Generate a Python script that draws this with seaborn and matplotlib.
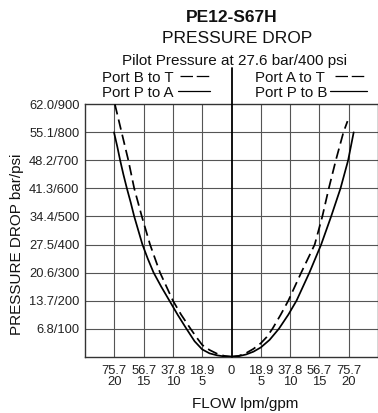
import matplotlib
matplotlib.use("Agg")
import matplotlib.pyplot as plt
from matplotlib.lines import Line2D
import seaborn as sns
import pandas as pd

# ---- data (flow in gpm, negative = left side; pressure in psi) ----
flow_p_to_a = [-20.05, -19.5, -19.0, -18.45, -17.85, -17.2, -16.6, -15.9, -15.2,
               -14.3, -13.3, -12.0, -10.6, -9.2, -7.7, -6.3, -5.0, -3.75, -2.5, -1.25, 0.0]
psi_p_to_a  = [800, 750, 700, 650, 600, 550, 500, 450, 400,
               350, 300, 250, 200, 150, 100, 55, 26, 12, 5, 1, 0]

flow_b_to_t = [-19.9, -18.75, -17.6, -16.6, -15.3, -13.9, -12.2, -10.0, -8.6,
               -7.0, -6.0, -5.0, -3.75, -2.5, -1.25, 0.0]
psi_b_to_t  = [900, 800, 700, 600, 500, 400, 300, 200, 150,
               100, 70, 42, 24, 11, 3, 0]

flow_a_to_t = [0.0, 1.25, 2.5, 3.75, 5.0, 6.0, 7.0, 8.4, 9.7, 11.9, 14.2, 15.5,
               16.6, 17.8, 19.1, 19.8]
psi_a_to_t  = [0, 3, 13, 28, 48, 70, 100, 150, 200, 300, 400, 500,
               600, 700, 800, 840]

flow_p_to_b = [0.0, 1.25, 2.5, 3.75, 5.0, 6.5, 8.1, 9.7, 11.1, 13.3, 15.3, 17.0,
               18.6, 19.9, 20.85]
psi_p_to_b  = [0, 2, 8, 18, 33, 60, 100, 150, 200, 300, 400, 500,
               600, 700, 800]

x_ticks = [-20, -15, -10, -5, 0, 5, 10, 15, 20]
x_tick_labels = ["75.7\n20", "56.7\n15", "37.8\n10", "18.9\n5", "0",
                 "18.9\n5", "37.8\n10", "56.7\n15", "75.7\n20"]
y_ticks = [100, 200, 300, 400, 500, 600, 700, 800, 900]
y_tick_labels = ["6.8/100", "13.7/200", "20.6/300", "27.5/400", "34.4/500",
                 "41.3/600", "48.2/700", "55.1/800", "62.0/900"]

title = "PE12-S67H"
subtitle1 = "PRESSURE DROP"
subtitle2 = "Pilot Pressure at 27.6 bar/400 psi"
x_label = "FLOW lpm/gpm"
y_label = "PRESSURE DROP bar/psi"

sns.set_style("white")
plt.rcParams['font.family'] = ['Liberation Sans', 'DejaVu Sans']

W, H = 378, 413
fig = plt.figure(figsize=(W / 100, H / 100), dpi=100)
ax = fig.add_axes([85 / W, 1 - 356.7 / H, (378 - 85) / W, (356.7 - 104.3) / H])

def fx(px):
    return px / W

def fy(py):
    return 1 - py / H

frames = []
for name, fl, ps in [("P to A", flow_p_to_a, psi_p_to_a),
                     ("B to T", flow_b_to_t, psi_b_to_t),
                     ("A to T", flow_a_to_t, psi_a_to_t),
                     ("P to B", flow_p_to_b, psi_p_to_b)]:
    frames.append(pd.DataFrame({"flow": fl, "psi": ps, "series": name}))
df = pd.concat(frames, ignore_index=True)

grid_c = "#555555"
for yv in y_ticks[:-1]:
    ax.axhline(yv, color=grid_c, lw=0.8, zorder=1)
for xv in x_ticks:
    if xv != 0:
        ax.axvline(xv, color=grid_c, lw=0.8, zorder=1)
# center line, extending up into legend area
ax.axvline(0, ymin=0, ymax=(356.7 - 68) / (356.7 - 104.3), color="black",
           lw=1.3, zorder=3, clip_on=False)

for name, dashed in [("P to A", False), ("B to T", True), ("A to T", True), ("P to B", False)]:
    sub = df[df["series"] == name]
    sns.lineplot(data=sub, x="flow", y="psi", ax=ax, sort=False, color="black",
                 lw=1.25, zorder=4, estimator=None)
    line = ax.lines[-1]
    line.set_solid_joinstyle("round")
    if dashed:
        line.set_dashes((6, 3))

ax.set_xlim(-25, 25)
ax.set_ylim(0, 900)
ax.set_xticks(x_ticks)
ax.set_xticklabels(x_tick_labels, fontsize=9.4, linespacing=0.93)
ax.set_yticks(y_ticks)
ax.set_yticklabels(y_tick_labels, fontsize=9.3)
ax.tick_params(axis="both", length=0, colors="#222222")
ax.tick_params(axis="x", pad=6)
ax.tick_params(axis="y", pad=4)
ax.set_xlabel("")
ax.set_ylabel("")
for s in ax.spines.values():
    s.set_color("#333333")
    s.set_linewidth(1.0)

# titles
fig.text(fx(231.7), fy(21.7), title, ha="center", va="baseline",
         fontsize=12.5, fontweight="bold", color="#111111")
fig.text(fx(237.5), fy(43.3), subtitle1, ha="center", va="baseline",
         fontsize=12.5, color="#111111")
fig.text(fx(234), fy(65), subtitle2, ha="center", va="baseline",
         fontsize=11, color="#111111")

# legend-like labels
fig.text(fx(101.7), fy(81.7), "Port B to T", ha="left", va="baseline", fontsize=10.8, color="#111111")
fig.text(fx(101.7), fy(96.7), "Port P to A", ha="left", va="baseline", fontsize=10.8, color="#111111")
fig.text(fx(255), fy(81.7), "Port A to T", ha="left", va="baseline", fontsize=10.8, color="#111111")
fig.text(fx(255), fy(96.7), "Port P to B", ha="left", va="baseline", fontsize=10.8, color="#111111")
for x0, x1, yy, dashed in [(180, 210, 76, True), (178, 210, 91, False),
                           (335, 367, 76, True), (330, 367, 91, False)]:
    ln = Line2D([fx(x0), fx(x1)], [fy(yy), fy(yy)], transform=fig.transFigure,
                color="black", lw=0.9)
    if dashed:
        ln.set_dashes((10, 3))
    fig.add_artist(ln)

fig.text(fx(16.7), fy(244), y_label, rotation=90, ha="center", va="center",
         fontsize=11, color="#111111")
fig.text(fx(245.5), fy(408.3), x_label, ha="center", va="baseline",
         fontsize=11, color="#111111")

fig.savefig("out.png", dpi=100)
